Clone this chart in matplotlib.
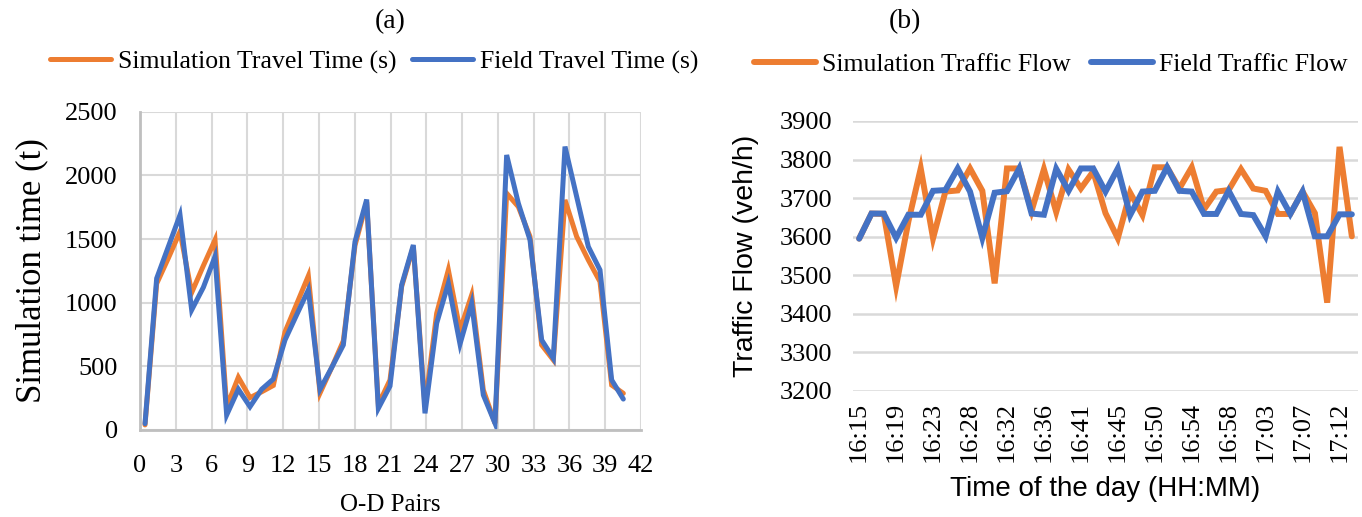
import matplotlib
matplotlib.use("Agg")
import matplotlib.pyplot as plt
import numpy as np

# Panel (a): travel time per O-D pair
OD_PAIRS = np.arange(1, 43)
SIM_TRAVEL_TIME = [40, 1150, 1350, 1558, 1079, 1290, 1493, 183, 414, 254,
                   300, 350, 770, 990, 1210, 290, 490, 700, 1450, 1790,
                   200, 393, 1127, 1440, 183, 916, 1257, 785, 1060, 314,
                   53, 1859, 1754, 1519, 668, 550, 1807, 1519, 1335, 1165,
                   353, 288]
FIELD_TRAVEL_TIME = [50, 1191, 1440, 1689, 943, 1120, 1362, 118, 320, 183,
                     320, 400, 707, 905, 1100, 320, 490, 668, 1479, 1810,
                     170, 345, 1139, 1453, 131, 838, 1152, 675, 995, 275,
                     53, 2160, 1781, 1493, 707, 563, 2226, 1833, 1440, 1257,
                     393, 243]

# Panel (b): traffic flow over time of day
SIM_FLOW = [3595, 3660, 3659, 3472, 3640, 3777, 3596, 3717, 3720, 3777,
            3719, 3479, 3777, 3777, 3667, 3775, 3664, 3774, 3725, 3769,
            3661, 3596, 3714, 3656, 3780, 3780, 3725, 3780, 3671, 3717,
            3721, 3775, 3725, 3719, 3659, 3659, 3717, 3661, 3429, 3833,
            3601]
FIELD_FLOW = [3595, 3660, 3660, 3597, 3657, 3657, 3719, 3721, 3777, 3717,
              3597, 3714, 3718, 3777, 3660, 3657, 3776, 3719, 3777, 3777,
              3717, 3777, 3656, 3717, 3719, 3780, 3719, 3717, 3659, 3659,
              3719, 3659, 3656, 3601, 3717, 3659, 3717, 3601, 3601, 3658,
              3658]
TIME_LABELS = ["16:15", "16:19", "16:23", "16:28", "16:32", "16:36", "16:41",
               "16:45", "16:50", "16:54", "16:58", "17:03", "17:07", "17:12"]

ORANGE = "#ED7D31"
BLUE = "#4472C4"
GRID = "#d9d9d9"
SERIF = "Liberation Serif"
SANS = "Liberation Sans"

W, H = 1362, 517


def px_axes(fig, left, right, top, bottom):
    """Dodaje osu zadatu u pikselima."""
    return fig.add_axes([left / W, (H - bottom) / H, (right - left) / W, (bottom - top) / H])


fig = plt.figure(figsize=(W / 100, H / 100), dpi=100)

# ---- (a) ----
ax1 = px_axes(fig, 140, 641, 111.7, 430)
x_od = (OD_PAIRS - 1) * 0.978 + 0.42
ax1.plot(x_od, SIM_TRAVEL_TIME, color=ORANGE, lw=3.6, solid_joinstyle="miter",
         solid_capstyle="round", label="Simulation Travel Time (s)")
ax1.plot(x_od, FIELD_TRAVEL_TIME, color=BLUE, lw=3.6, solid_joinstyle="miter",
         solid_capstyle="round", label="Field Travel Time (s)")
ax1.set_xlim(0, 42)
ax1.set_ylim(0, 2500)
ax1.set_xticks(np.arange(0, 43, 3))
ax1.set_yticks(np.arange(0, 2501, 500))
ax1.grid(True, color=GRID, lw=1.5)
ax1.set_axisbelow(True)
for side in ["top", "right"]:
    ax1.spines[side].set_visible(False)
for side in ["left", "bottom"]:
    ax1.spines[side].set_color("#bfbfbf")
    ax1.spines[side].set_linewidth(2)
ax1.tick_params(axis="y", length=0, labelsize=19, pad=16)
ax1.tick_params(axis="x", length=0, labelsize=19, pad=18)
for lab in ax1.get_xticklabels() + ax1.get_yticklabels():
    lab.set_fontfamily(SERIF)
ax1.set_xlabel("O-D Pairs", fontfamily=SERIF, fontsize=18, labelpad=12)
ax1.set_ylabel("Simulation time (t)", fontfamily=SERIF, fontsize=25, labelpad=12)
fig.text(390 / W, 1 - 22 / H, "(a)", ha="center", va="center", fontfamily=SERIF, fontsize=20)
ax1.legend(loc="center", bbox_to_anchor=(374 / W, 1 - 62 / H), bbox_transform=fig.transFigure,
           ncol=2, frameon=False, prop={"family": SERIF, "size": 18.5},
           handlelength=2.4, handletextpad=0.25, columnspacing=0.6)

# ---- (b) ----
ax2 = px_axes(fig, 853, 1358, 121, 391)
idx = np.arange(len(SIM_FLOW))
ax2.plot(idx, SIM_FLOW, color=ORANGE, lw=4.3, solid_joinstyle="miter",
         solid_capstyle="round", label="Simulation Traffic Flow")
ax2.plot(idx, FIELD_FLOW, color=BLUE, lw=4.3, solid_joinstyle="miter",
         solid_capstyle="round", label="Field Traffic Flow")
ax2.set_xlim(-0.5, len(SIM_FLOW) - 0.5)
ax2.set_ylim(3200, 3900)
ax2.set_yticks(np.arange(3200, 3901, 100))
ax2.set_xticks(idx[::3])
ax2.set_xticklabels(TIME_LABELS, rotation=90)
ax2.grid(True, axis="y", color=GRID, lw=1.8)
ax2.set_axisbelow(True)
for side in ax2.spines:
    ax2.spines[side].set_visible(False)
ax2.tick_params(axis="y", length=0, labelsize=19, pad=15)
ax2.tick_params(axis="x", length=0, labelsize=19, pad=8)
for lab in ax2.get_xticklabels() + ax2.get_yticklabels():
    lab.set_fontfamily(SERIF)
ax2.set_xlabel("Time of the day (HH:MM)", fontfamily=SANS, fontsize=20, labelpad=10)
ax2.set_ylabel("Traffic Flow (veh/h)", fontfamily=SANS, fontsize=20.5, labelpad=15)
fig.text(905 / W, 1 - 22 / H, "(b)", ha="center", va="center", fontfamily=SERIF, fontsize=20)
ax2.legend(loc="center", bbox_to_anchor=(1051 / W, 1 - 65 / H), bbox_transform=fig.transFigure,
           ncol=2, frameon=False, prop={"family": SERIF, "size": 18.5},
           handlelength=2.4, handletextpad=0.25, columnspacing=0.8)

fig.savefig("out.png", dpi=100)
